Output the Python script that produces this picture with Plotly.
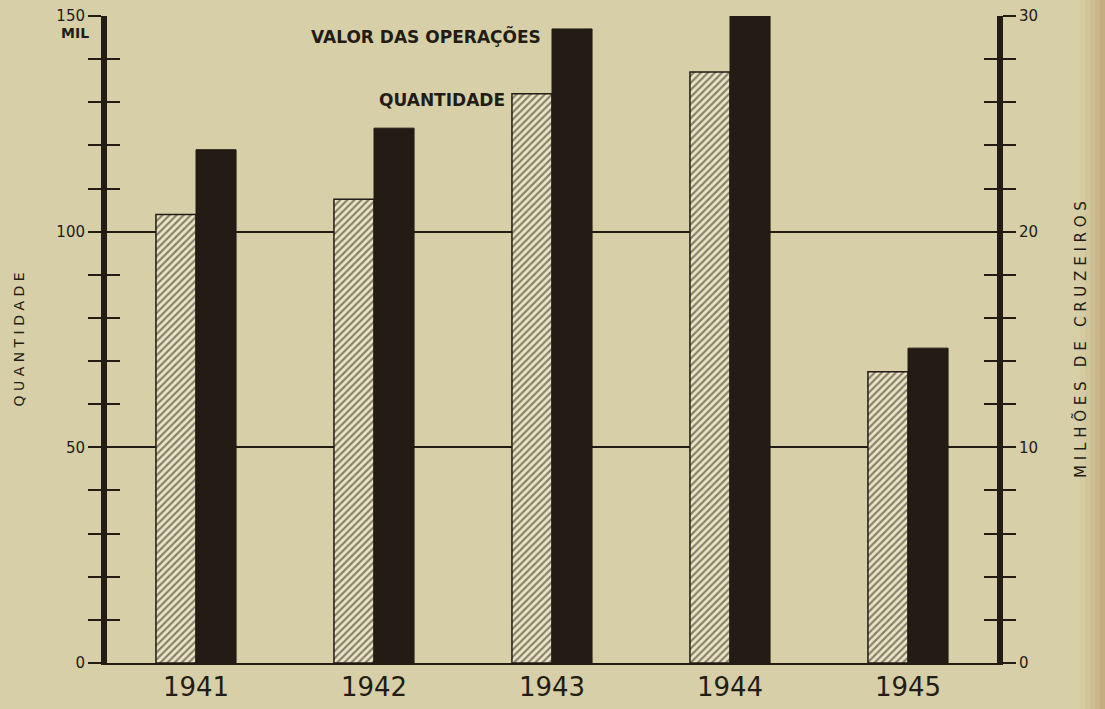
import plotly.graph_objects as go

anos = ["1941", "1942", "1943", "1944", "1945"]
quantidade = [104, 107.5, 132, 137, 67.5]          # mil
valor = [23.8, 24.8, 29.4, 30, 14.6]               # milhões de cruzeiros

left_ticks = [0, 50, 100, 150]
left_labels = ["0", "50", "100", "150"]
right_ticks = [0, 10, 20, 30]
right_labels = ["0", "10", "20", "30"]

BG = "#d6cfa8"
INK = "#221c14"
FONT = "DejaVu Sans"

fig = go.Figure()
fig.add_trace(go.Bar(
    x=anos, y=quantidade, name="QUANTIDADE", yaxis="y", offsetgroup="q",
    marker=dict(color="#ece6c6", line=dict(color=INK, width=1.5),
                pattern=dict(shape="/", fgcolor=INK, bgcolor="#ece6c6",
                             size=5, solidity=0.45)),
))
fig.add_trace(go.Bar(
    x=anos, y=valor, name="VALOR DAS OPERAÇÕES", yaxis="y2", offsetgroup="v",
    marker=dict(color=INK, line=dict(color=INK, width=1)),
))
# invisible traces so the overlay axes (inner ticks) are drawn
fig.add_trace(go.Scatter(x=anos, y=quantidade, yaxis="y3", mode="markers",
                         marker=dict(opacity=0), hoverinfo="skip", showlegend=False))
fig.add_trace(go.Scatter(x=anos, y=valor, yaxis="y4", mode="markers",
                         marker=dict(opacity=0), hoverinfo="skip", showlegend=False))

axis_common = dict(showline=True, linecolor=INK, linewidth=6, ticklen=13,
                   tickwidth=1.5, tickcolor=INK, zeroline=False, automargin=False)

fig.update_layout(
    width=1105, height=709,
    margin=dict(l=107, r=108, t=16, b=46),
    paper_bgcolor=BG, plot_bgcolor=BG,
    barmode="group", bargap=0.55, bargroupgap=0,
    showlegend=False,
    font=dict(family=FONT, color=INK),
    xaxis=dict(type="category", range=[-0.5, 4.5], showline=True, linecolor=INK,
               linewidth=2, ticks="", tickfont=dict(size=26, color=INK),
               showgrid=False, ticklabelstandoff=0, automargin=False),
    yaxis=dict(range=[0, 150], tickvals=left_ticks, ticktext=left_labels,
               ticks="outside", side="left", showgrid=True, gridcolor=INK,
               gridwidth=1.5, tickfont=dict(size=15, color=INK),
               minor=dict(dtick=10, ticks="outside", ticklen=13, tickwidth=1.5,
                          tickcolor=INK, showgrid=False),
               title=dict(text="Q U A N T I D A D E", font=dict(size=14, color=INK),
                          standoff=30),
               **axis_common),
    yaxis3=dict(range=[0, 150], overlaying="y", side="left", anchor="x",
                tickvals=left_ticks, ticks="inside", showticklabels=False,
                showgrid=False,
                minor=dict(dtick=10, ticks="inside", ticklen=13, tickwidth=1.5,
                           tickcolor=INK, showgrid=False),
                **axis_common),
    yaxis2=dict(range=[0, 30], tickvals=right_ticks, ticktext=right_labels,
                overlaying="y", side="right", ticks="outside", showgrid=False,
                tickfont=dict(size=15, color=INK),
                minor=dict(dtick=2, ticks="outside", ticklen=13, tickwidth=1.5,
                           tickcolor=INK, showgrid=False),
                title=dict(text="M I L H Õ E S   D E   C R U Z E I R O S",
                           font=dict(size=15, color=INK), standoff=40),
                **axis_common),
    yaxis4=dict(range=[0, 30], overlaying="y", side="right", anchor="x",
                tickvals=right_ticks, ticks="inside", showticklabels=False,
                showgrid=False,
                minor=dict(dtick=2, ticks="inside", ticklen=13, tickwidth=1.5,
                           tickcolor=INK, showgrid=False),
                **axis_common),
)

# aged-paper tint along the right edge
tints = ["#d4cba2", "#d1c59c", "#cdbe94", "#c9b68a", "#c4ad80"]
for i, c in enumerate(tints):
    fig.add_shape(type="rect", xref="paper", yref="paper", layer="below",
                  x0=1 + (1080 - 997 + i * 5) / 890, x1=1 + (1105 - 997) / 890,
                  y0=-0.1, y1=1.05, fillcolor=c, line=dict(width=0))

fig.add_annotation(x=2, y=valor[2], xref="x", yref="y2",
                   text="<b>VALOR DAS OPERAÇÕES</b>", showarrow=False,
                   xanchor="right", yanchor="middle", xshift=-9, yshift=-7,
                   font=dict(size=17, color=INK, family=FONT))
fig.add_annotation(x=2, y=quantidade[2], xref="x", yref="y",
                   text="<b>QUANTIDADE</b>", showarrow=False,
                   xanchor="right", yanchor="middle", xshift=-45, yshift=-6,
                   font=dict(size=17, color=INK, family=FONT))
fig.add_annotation(x=0, y=150, xref="paper", yref="y", text="<b>MIL</b>",
                   showarrow=False, xanchor="right", yanchor="top",
                   xshift=-16, yshift=-7, font=dict(size=14, color=INK))

fig.write_html("out.html", config={"displayModeBar": False},
               post_script="document.body.style.margin='0';")
